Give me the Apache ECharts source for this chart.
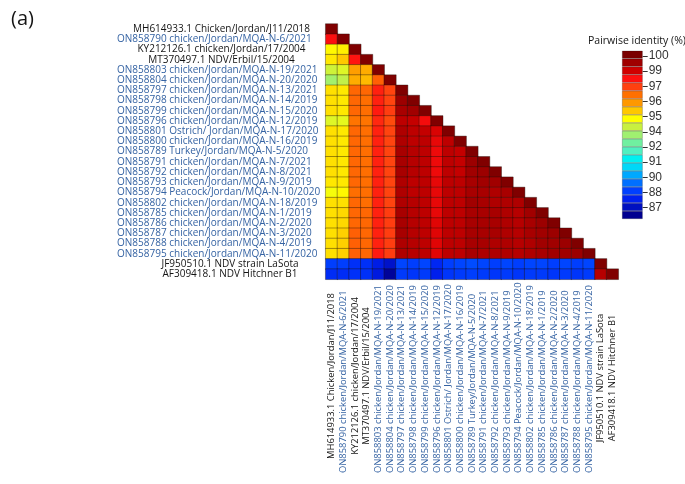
<!DOCTYPE html>
<html>
<head>
<meta charset="utf-8">
<script src="https://cdn.jsdelivr.net/npm/echarts@6/dist/echarts.min.js"></script>
<style>
html, body { margin: 0; padding: 0; background: #fff; }
#main { width: 685px; height: 484px; }
</style>
</head>
<body>
<div id="main"></div>
<script>
// sequence names, top to bottom (rows) and left to right (columns)
var categories = [
    'MH614933.1 Chicken/Jordan/J11/2018',
    'ON858790 chicken/Jordan/MQA-N-6/2021',
    'KY212126.1 chicken/Jordan/17/2004',
    'MT370497.1 NDV/Erbil/15/2004',
    'ON858803 chicken/Jordan/MQA-N-19/2021',
    'ON858804 chicken/Jordan/MQA-N-20/2020',
    'ON858797 chicken/Jordan/MQA-N-13/2021',
    'ON858798 chicken/Jordan/MQA-N-14/2019',
    'ON858799 chicken/Jordan/MQA-N-15/2020',
    'ON858796 chicken/Jordan/MQA-N-12/2019',
    'ON858801 Ostrich/ Jordan/MQA-N-17/2020',
    'ON858800 chicken/Jordan/MQA-N-16/2019',
    'ON858789 Turkey/Jordan/MQA-N-5/2020',
    'ON858791 chicken/Jordan/MQA-N-7/2021',
    'ON858792 chicken/Jordan/MQA-N-8/2021',
    'ON858793 chicken/Jordan/MQA-N-9/2019',
    'ON858794 Peacock/Jordan/MQA-N-10/2020',
    'ON858802 chicken/Jordan/MQA-N-18/2019',
    'ON858785 chicken/Jordan/MQA-N-1/2019',
    'ON858786 chicken/Jordan/MQA-N-2/2020',
    'ON858787 chicken/Jordan/MQA-N-3/2020',
    'ON858788 chicken/Jordan/MQA-N-4/2019',
    'ON858795 chicken/Jordan/MQA-N-11/2020',
    'JF950510.1 NDV strain LaSota',
    'AF309418.1 NDV Hitchner B1'
];
var refStrains = [
    'MH614933.1 Chicken/Jordan/J11/2018',
    'KY212126.1 chicken/Jordan/17/2004',
    'MT370497.1 NDV/Erbil/15/2004'
];
var vaccineStrains = ['JF950510.1 NDV strain LaSota', 'AF309418.1 NDV Hitchner B1'];

// pairwise identity (%), lower triangle incl. diagonal, one array per row
var identityRows = [
    [100],
    [98.1, 100],
    [94.7, 94.8, 100],
    [94.9, 95.3, 98.0, 100],
    [94.0, 94.2, 95.9, 95.7, 100],
    [93.3, 93.8, 95.7, 95.5, 96.9, 100],
    [95.0, 94.9, 96.8, 96.8, 97.8, 97.3, 100],
    [95.0, 94.9, 96.8, 96.7, 97.8, 97.3, 99.5, 100],
    [95.0, 94.9, 96.8, 96.7, 97.9, 97.4, 99.3, 99.4, 100],
    [94.2, 94.3, 96.6, 96.6, 97.7, 97.2, 99.0, 98.9, 98.2, 100],
    [95.0, 94.9, 96.8, 96.7, 97.8, 97.3, 99.2, 99.0, 98.9, 98.6, 100],
    [95.0, 94.9, 96.8, 96.7, 97.8, 97.3, 99.2, 99.0, 99.0, 98.4, 99.0, 100],
    [95.0, 94.9, 96.8, 96.7, 97.8, 97.3, 99.3, 99.1, 99.0, 98.3, 99.0, 98.9, 100],
    [95.0, 94.9, 96.8, 96.7, 97.8, 97.3, 99.3, 99.1, 99.0, 98.3, 99.0, 98.9, 99.5, 100],
    [95.0, 94.9, 96.8, 96.7, 97.8, 97.3, 99.3, 99.1, 99.0, 98.3, 99.0, 98.9, 99.4, 99.5, 100],
    [94.9, 94.9, 96.8, 96.7, 97.8, 97.3, 99.2, 99.0, 99.0, 98.4, 99.0, 99.0, 99.3, 99.4, 99.4, 100],
    [94.5, 94.7, 96.7, 96.7, 97.8, 97.3, 99.2, 99.0, 99.0, 98.4, 99.0, 99.0, 99.3, 99.3, 99.2, 99.3, 100],
    [95.0, 95.0, 96.8, 96.7, 97.8, 97.3, 99.2, 99.1, 99.0, 98.4, 99.0, 99.0, 99.4, 99.3, 99.2, 99.2, 99.2, 100],
    [95.0, 95.1, 96.8, 96.8, 97.8, 97.4, 99.3, 99.1, 99.0, 98.4, 99.0, 99.0, 99.3, 99.3, 99.3, 99.2, 99.1, 99.4, 100],
    [95.0, 95.1, 96.8, 96.8, 97.8, 97.4, 99.3, 99.1, 99.0, 98.5, 99.0, 99.0, 99.3, 99.3, 99.3, 99.2, 99.1, 99.3, 99.5, 100],
    [95.0, 95.2, 96.9, 96.8, 97.8, 97.4, 99.3, 99.1, 99.0, 98.5, 99.0, 99.0, 99.3, 99.3, 99.3, 99.2, 99.1, 99.3, 99.4, 99.5, 100],
    [95.0, 95.2, 96.9, 96.8, 97.8, 97.4, 99.2, 99.1, 99.0, 98.5, 99.0, 99.0, 99.3, 99.3, 99.2, 99.2, 99.1, 99.2, 99.4, 99.4, 99.5, 100],
    [95.0, 95.2, 96.9, 96.8, 97.9, 97.4, 99.2, 99.1, 99.0, 98.5, 99.0, 99.0, 99.3, 99.2, 99.2, 99.2, 99.1, 99.2, 99.3, 99.4, 99.4, 99.5, 100],
    [88.4, 88.4, 88.1, 88.1, 87.6, 87.2, 88.5, 88.4, 88.5, 87.9, 88.4, 88.5, 88.6, 88.5, 88.4, 88.5, 88.4, 88.5, 88.5, 88.4, 88.5, 88.4, 88.5, 100],
    [88.0, 88.0, 88.1, 88.1, 87.5, 86.5, 88.3, 88.2, 88.3, 87.7, 88.2, 88.3, 88.4, 88.3, 88.2, 88.3, 88.2, 88.3, 88.3, 88.2, 88.3, 88.2, 88.3, 99.1, 100]
];

// colour scale, low to high
var bandColors = ['#000090', '#0010c0', '#0020f0', '#0040ff', '#0070ff', '#00a8ff', '#00d8f8',
    '#00f0f0', '#50f0c0', '#70f0a0', '#a0f070', '#c8f040', '#ffff00', '#ffc800', '#ff9800',
    '#ff7000', '#ff4010', '#ff1010', '#d00000', '#a00000', '#7a0000'];
var scaleMin = 86.03;
var scaleMax = 100.45;
var scaleTicks = [100, 98.7, 97.4, 96.1, 94.8, 93.5, 92.2, 90.9, 89.6, 88.3, 87.0];

var chart = echarts.init(document.getElementById('main'));

var cells = [];
identityRows.forEach(function (row, i) {
    row.forEach(function (v, j) {
        cells.push([j, i, v]);
    });
});

var bandWidth = (scaleMax - scaleMin) / bandColors.length;

function nameLabel(v) {
    if (refStrains.indexOf(v) >= 0) return '{r|' + v + '}';
    if (vaccineStrains.indexOf(v) >= 0) return '{s|' + v + '}';
    return '{o|' + v + '}';
}

var blue = '#3563a3';
var ink = '#141414';

var series = [{
    type: 'heatmap',
    xAxisIndex: 0,
    yAxisIndex: 0,
    data: cells,
    itemStyle: { borderColor: 'rgba(30,15,10,0.55)', borderWidth: 0.7 },
    emphasis: { disabled: true },
    silent: true
}, {
    type: 'bar',
    xAxisIndex: 1,
    yAxisIndex: 1,
    stack: 'cb',
    data: [scaleMin],
    itemStyle: { color: 'transparent' },
    barWidth: '100%',
    silent: true
}];
bandColors.forEach(function (c) {
    series.push({
        type: 'bar',
        xAxisIndex: 1,
        yAxisIndex: 1,
        stack: 'cb',
        data: [bandWidth],
        barWidth: '100%',
        itemStyle: { color: c, borderColor: 'rgba(0,0,0,0.35)', borderWidth: 0.6 },
        silent: true
    });
});

var option = {
    animation: false,
    backgroundColor: '#fff',
    title: [{
        text: '(a)',
        left: 6,
        top: 4,
        textStyle: { fontFamily: 'Open Sans', fontSize: 20, fontWeight: 'normal', color: ink }
    }, {
        text: 'Pairwise identity (%)',
        left: 583,
        top: 31,
        textStyle: { fontFamily: 'Open Sans', fontSize: 10.5, fontWeight: 'normal', color: ink }
    }],
    grid: [
        { left: 325.7, top: 24, width: 292.6, height: 255.3, outerBoundsMode: 'none' },
        { left: 622, top: 50.7, width: 20.7, height: 168.3, outerBoundsMode: 'none' }
    ],
    xAxis: [{
        type: 'category',
        gridIndex: 0,
        data: categories,
        axisLine: { show: false },
        axisTick: { show: false },
        splitLine: { show: false },
        axisLabel: {
            interval: 0,
            rotate: 90,
            align: 'left',
            verticalAlign: 'middle',
            margin: 193.7,
            formatter: nameLabel,
            rich: {
                r: { fontFamily: 'Open Sans', fontSize: 9.4, color: ink, width: 194, align: 'center' },
                s: { fontFamily: 'Open Sans', fontSize: 9.4, color: ink, width: 190, align: 'center' },
                o: { fontFamily: 'Open Sans', fontSize: 9.4, color: blue }
            }
        }
    }, {
        type: 'category',
        gridIndex: 1,
        data: [''],
        show: false
    }],
    yAxis: [{
        type: 'category',
        gridIndex: 0,
        inverse: true,
        data: categories,
        axisLine: { show: false },
        axisTick: { show: false },
        splitLine: { show: false },
        axisLabel: {
            interval: 0,
            align: 'left',
            margin: 208.7,
            formatter: nameLabel,
            rich: {
                r: { fontFamily: 'Open Sans', fontSize: 10, color: ink, width: 209, align: 'center' },
                s: { fontFamily: 'Open Sans', fontSize: 10, color: ink, width: 226, align: 'center' },
                o: { fontFamily: 'Open Sans', fontSize: 10, color: blue }
            }
        }
    }, {
        type: 'value',
        gridIndex: 1,
        position: 'right',
        min: scaleMin,
        max: scaleMax,
        axisLine: { show: false },
        splitLine: { show: false },
        axisTick: { show: true, length: 5, customValues: scaleTicks, lineStyle: { color: '#333', width: 1 } },
        axisLabel: {
            customValues: scaleTicks,
            margin: 6,
            fontFamily: 'Liberation Sans',
            fontSize: 12,
            color: '#333',
            formatter: function (v) { return Math.round(v); }
        }
    }],
    visualMap: {
        show: false,
        seriesIndex: 0,
        min: scaleMin + bandWidth / 2,
        max: scaleMax - bandWidth / 2,
        inRange: { color: bandColors }
    },
    series: series
};

chart.setOption(option);
</script>
</body>
</html>
